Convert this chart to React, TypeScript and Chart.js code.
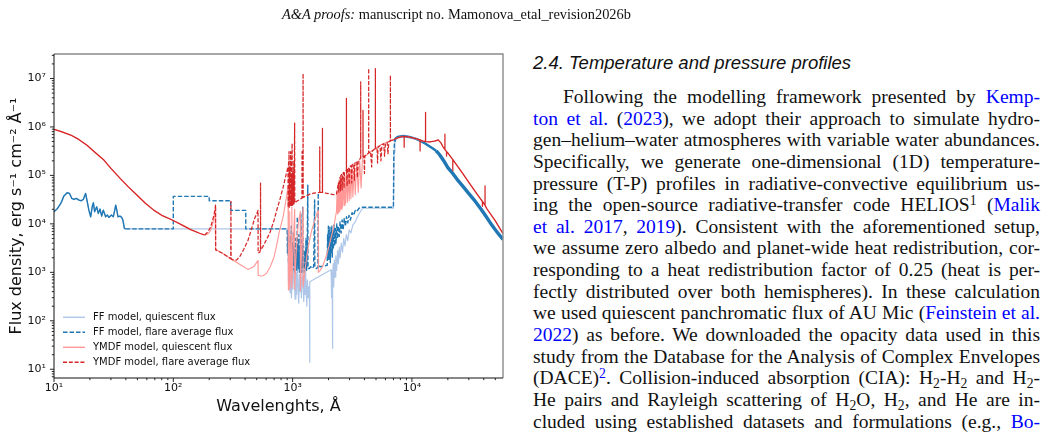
import React, { useEffect, useRef } from 'react';
import { Chart, registerables } from 'chart.js';

Chart.register(...registerables);

type Pt = [number, number];

// ---------- axes ----------
const X_MIN = 10;
const X_MAX = 58000;
const Y_MIN = 6.6;
const Y_MAX = 3.2e7;
const xDecades = [10, 100, 1000, 10000];
const yDecades = [1, 10, 100, 1e3, 1e4, 1e5, 1e6, 1e7];
const minorSteps = [1, 2, 3, 4, 5, 6, 7, 8, 9];
const xTitle = 'Wavelenghts, Å';
const yTitle = 'Flux density, erg s⁻¹ cm⁻² Å⁻¹';

// ---------- legend ----------
const seriesLabels = [
  'FF model, quiescent flux',
  'FF model, flare average flux',
  'YMDF model, quiescent flux',
  'YMDF model, flare average flux',
];
const seriesColors = ['#aec7e8', '#1f77b4', '#ff9896', '#d62728'];

// ---------- FF model (X-ray part, shared by both FF spectra) ----------
const ffXray: Pt[] = [
  [10, 17800], [10.7, 20800], [11.4, 26400], [12.1, 37400], [12.9, 43800], [13.5, 42500],
  [14.1, 33500], [14.7, 31900], [15.4, 33500], [16.2, 30900], [16.9, 30000], [17.6, 31900],
  [18.4, 42500], [19.0, 28600], [19.6, 19200], [20.3, 14000], [20.9, 22500], [21.4, 27200],
  [21.9, 17800], [22.8, 22500], [23.5, 16400], [24.3, 20200], [25.1, 14500], [25.9, 19200],
  [27.1, 14000], [28.0, 15200], [28.9, 13600], [30.2, 15200], [31.4, 14000], [32.3, 19200],
  [32.9, 24400], [33.5, 19900], [34.4, 14000], [35.7, 14500], [36.9, 13600], [37.8, 12000],
  [38.9, 8050], [39.9, 7900],
];

// FF infrared part (shared)
const ffInfrared: Pt[] = [
  [7300, 580000], [7600, 620000], [8000, 640000], [8500, 650000], [9000, 635000], [9500, 620000],
  [10000, 600000], [11000, 560000], [12000, 500000], [13000, 450000], [14000, 400000],
  [15000, 360000], [16000, 320000], [17000, 270000], [18000, 220000], [19000, 180000],
  [20000, 145000], [22000, 110000], [24000, 82000], [27000, 58000], [30000, 42000],
  [34000, 29000], [38000, 20000], [42000, 14000], [46000, 10000], [50000, 7600],
  [54000, 5900], [58000, 4800],
];

const ffQuiescentUv: Pt[] = [
  [915, 7900], [920, 2500], [928, 600], [940, 1500], [952, 380], [965, 900], [978, 300],
  [992, 1300], [1005, 450], [1020, 2200], [1035, 650], [1050, 280], [1065, 1000], [1080, 350],
  [1095, 1600], [1110, 500], [1125, 230], [1140, 900], [1155, 400], [1170, 1400], [1185, 300],
  [1200, 800], [1215, 3000], [1225, 500], [1240, 250], [1255, 900], [1270, 350], [1285, 1200],
  [1300, 400], [1315, 200], [1330, 700], [1350, 300], [1370, 500], [1385, 250], [1390, 14],
  [1395, 640], [2100, 1130], [2115, 300], [2130, 900], [2150, 400], [2160, 27], [2170, 800],
  [2190, 1500], [2210, 500], [2240, 1800], [2270, 800], [2300, 2200], [2340, 1100], [2380, 2800],
  [2420, 1500], [2460, 3300], [2500, 2000], [2560, 4000], [2620, 2600], [2680, 5000],
  [2750, 3500], [2820, 6000], [2900, 4500], [2980, 7500], [3080, 6500], [3200, 9500],
  [3350, 11000], [3500, 14000], [3650, 17000], [3800, 20000], [3900, 21000], [7000, 21000],
  [7100, 300000], [7200, 520000],
];

const ffFlareUv: Pt[] = [
  [100, 7900], [100, 37000], [200, 37000], [200, 30000], [303, 30000], [303, 19000],
  [405, 19000], [405, 7900], [900, 7900], [905, 2500], [915, 6000], [925, 1500], [935, 4500],
  [945, 1200], [955, 5500], [965, 1600], [975, 9000], [985, 1300], [995, 4000], [1005, 1100],
  [1015, 6500], [1025, 1400], [1035, 3500], [1045, 1000], [1055, 5000], [1065, 1300],
  [1075, 3000], [1085, 1100], [1095, 14000], [1100, 1500], [1110, 4000], [1120, 1200],
  [1130, 6000], [1140, 1000], [1150, 3500], [1160, 1400], [1170, 16000], [1175, 1300],
  [1185, 3000], [1195, 1000], [1205, 4500], [1215, 22000], [1222, 1200], [1235, 3500],
  [1250, 1000], [1265, 2800], [1280, 1200], [1295, 5000], [1310, 1100], [1325, 2500],
  [1340, 63000], [1345, 1200], [1380, 1200], [1420, 1300], [1460, 1200], [1500, 1300],
  [1530, 31000], [1535, 1300], [1580, 1200], [1630, 1250], [1640, 43000], [1645, 1500],
  [1700, 1300], [1950, 1400], [1965, 6000], [1980, 2000], [1995, 9000], [2010, 1800],
  [2025, 5500], [2040, 2200], [2055, 8500], [2070, 1600], [2090, 6500], [2110, 2400],
  [2130, 9000], [2150, 2000], [2170, 7000], [2195, 3000], [2220, 9500], [2250, 3500],
  [2280, 8000], [2310, 4000], [2345, 10000], [2380, 5000], [2420, 9000], [2460, 5500],
  [2500, 11000], [2550, 6500], [2600, 12000], [2650, 7500], [2710, 13000], [2770, 9000],
  [2830, 14000], [2900, 10500], [2970, 15000], [3050, 12000], [3150, 17000], [3250, 15000],
  [3350, 19000], [3450, 18000], [3600, 21000], [3750, 22000], [3900, 22000], [7000, 22000],
  [7050, 280000], [7150, 500000],
];

// ---------- YMDF model ----------
const ymdfXuv: Pt[] = [
  [10, 890000], [11.5, 800000], [13.8, 680000], [16, 560000], [18.9, 420000], [22, 300000],
  [26.2, 207000], [30, 140000], [36, 86000], [42, 58000], [49.7, 39000], [58, 27000],
  [68.5, 19200], [80, 15000], [98, 12000], [120, 9300], [140, 7600], [166, 6400], [183, 5900],
];

const ymdfQuiescentUv: Pt[] = [
  [195, 6200], [205, 7200], [213, 9500], [220, 14000], [224, 19000], [226, 23500], [226.5, 3000],
  [260, 2450], [300, 1950], [340, 1600], [380, 1350], [423, 1150], [470, 1300], [513, 1740],
  [514, 870], [540, 840], [565, 850], [603, 950], [650, 1300], [700, 2100], [731, 3400],
  [770, 6500], [800, 9500], [832, 14000], [870, 26000], [900, 45000], [915, 59000],
  [918, 430], [925, 900], [935, 4000], [945, 18000], [947, 450], [960, 1200], [972, 6000],
  [985, 22000], [987, 480], [1000, 1400], [1020, 5500], [1040, 20000], [1042, 450],
  [1060, 1400], [1085, 4500], [1110, 9000], [1140, 14000], [1160, 18000], [1162, 420],
  [1185, 2200], [1205, 8000], [1222, 22000], [1224, 500], [1250, 800], [1280, 1300],
  [1320, 2300], [1360, 3500], [1400, 5200], [1450, 7500], [1500, 10000], [1550, 13000],
  [1600, 16500], [1640, 19000], [1642, 1000], [1700, 1100], [1780, 1300], [1850, 1700],
  [1950, 2500], [2050, 4000], [2150, 6500], [2250, 11000], [2330, 18000], [2360, 45000],
  [2380, 16000], [2410, 60000], [2430, 17000], [2460, 70000], [2490, 18000], [2520, 80000],
  [2550, 20000], [2590, 88000], [2620, 22000], [2660, 95000], [2700, 24000], [2740, 100000],
  [2780, 26000], [2830, 110000], [2880, 28000], [2930, 120000], [2980, 30000], [3030, 130000],
  [3080, 33000], [3140, 140000], [3200, 36000], [3280, 160000], [3350, 40000], [3450, 180000],
  [3550, 45000], [3650, 200000], [3750, 55000], [3850, 220000], [4000, 240000], [4500, 310000],
  [5000, 370000], [5500, 430000], [6000, 470000], [6500, 510000],
];

const ymdfInfrared: Pt[] = [
  [7000, 545000], [7500, 590000], [8400, 640000], [9200, 630000], [10560, 580000],
  [12400, 510000], [14000, 490000], [15500, 510000], [16600, 540000], [17500, 470000],
  [18200, 390000], [20000, 290000], [22100, 210000], [26000, 120000], [30500, 68000],
  [36000, 38000], [42200, 21000], [50000, 11500], [58000, 6300],
];

const ymdfFlareUv: Pt[] = [
  [195, 6800], [205, 8500], [213, 11500], [220, 16000], [224, 21000], [226, 24500], [226.5, 2900],
  [260, 2450], [290, 2050], [303, 1900], [304, 29000], [305, 1880], [320, 1800], [338, 1780],
  [360, 2100], [390, 3000], [423, 4600], [450, 7500], [481, 13000], [500, 16000], [513, 19000],
  [514, 2500], [530, 2600], [538, 2900], [538.5, 69000], [539, 2900], [560, 3300], [600, 4600],
  [643, 6400], [700, 12000], [740, 20000], [780, 31000], [830, 55000], [870, 90000],
  [915, 150000], [918, 22000], [925, 200000], [928, 22000], [933, 310000], [936, 22000],
  [945, 150000], [948, 23000], [963, 310000], [966, 23000], [975, 100000], [978, 24000],
  [990, 460000], [993, 24000], [1005, 120000], [1008, 25000], [1025, 200000], [1028, 26000],
  [1040, 1200000], [1043, 27000], [1070, 28500], [1100, 30000], [1150, 32000], [1198, 34000],
  [1200, 310000], [1202, 34000], [1222, 35000], [1224, 12700000], [1226, 35000], [1300, 38000],
  [1400, 41000], [1500, 43000], [1600, 44000], [1687, 44500], [1688, 390000], [1690, 44500],
  [1778, 44500], [1779, 930000], [1781, 44500], [1900, 43000], [2000, 42000], [2100, 41000],
  [2200, 40000], [2330, 41000], [2380, 55000], [2420, 70000], [2440, 45000], [2460, 80000],
  [2500, 92000], [2520, 48000], [2540, 100000], [2580, 105000], [2600, 50000], [2620, 108000],
  [2680, 115000], [2700, 55000], [2720, 118000], [2790, 125000], [2825, 130000],
  [2826, 3900000], [2828, 130000], [2860, 60000], [2880, 135000], [2950, 145000],
  [2980, 65000], [3000, 150000], [3100, 160000], [3130, 70000], [3160, 165000], [3250, 175000],
  [3300, 80000], [3330, 180000], [3450, 195000], [3500, 90000], [3550, 205000], [3720, 225000],
  [3721, 8500000], [3723, 225000], [3800, 232000], [3890, 240000], [3891, 2200000],
  [3893, 240000], [3970, 250000], [4000, 110000], [4030, 255000], [4200, 275000],
  [4340, 290000], [4341, 16000000], [4343, 290000], [4500, 310000], [4600, 150000],
  [4650, 320000], [4800, 340000], [4940, 355000], [4941, 16000000], [4943, 355000],
  [5100, 375000], [5150, 180000], [5200, 385000], [5400, 410000], [5500, 200000],
  [5600, 430000], [5800, 450000], [5900, 250000], [6000, 465000], [6200, 480000],
  [6300, 280000], [6400, 495000], [6600, 515000], [6601, 11700000], [6603, 515000],
];

const ymdfFlareInfrared: Pt[] = [
  [7000, 545000], [7500, 590000], [8400, 640000], [8600, 635000], [8610, 380000], [8620, 635000],
  [9200, 630000], [10560, 580000], [11700, 540000], [11710, 320000], [11720, 540000],
  [12400, 510000], [13000, 500000], [13010, 2000000], [13020, 500000], [14000, 490000],
  [15500, 510000], [16600, 540000], [17500, 470000], [18200, 390000], [18900, 340000],
  [18910, 710000], [18920, 340000], [19500, 310000], [19510, 250000], [19520, 310000],
  [20000, 290000], [22000, 212000], [22010, 125000], [22020, 212000], [26000, 120000],
  [30500, 68000], [36000, 38000], [39000, 29000], [39010, 23000], [39020, 29000],
  [41000, 24500], [41010, 61000], [41020, 24500], [42200, 21000], [50000, 11500], [58000, 6300],
];

// ---------- helpers ----------
const SUP: Record<string, string> = { '0': '⁰', '1': '¹', '2': '²', '3': '³', '4': '⁴', '5': '⁵', '6': '⁶', '7': '⁷', '8': '⁸', '9': '⁹' };
const isPow10 = (v: number) => Math.abs(Math.log10(v) - Math.round(Math.log10(v))) < 1e-9;
const powLabel = (v: number) => '10' + String(Math.round(Math.log10(v))).split('').map((c) => SUP[c]).join('');
const toXY = (pts: Pt[]) => pts.map(([x, y]) => ({ x, y }));
const buildTicks = (decades: number[], lo: number, hi: number) =>
  decades.flatMap((d) => minorSteps.map((m) => m * d)).filter((v) => v >= lo * 0.9999 && v <= hi);

const FONT = "'DejaVu Sans', sans-serif";

const framePlugin = {
  id: 'frameAndTicks',
  afterDraw(chart: any) {
    const { ctx, chartArea } = chart;
    const { left, right, top, bottom } = chartArea;
    const xs = chart.scales.x;
    const ys = chart.scales.y;
    ctx.save();
    ctx.strokeStyle = '#111';
    ctx.lineWidth = 0.9;
    xs.ticks.forEach((t: any) => {
      const px = xs.getPixelForValue(t.value);
      const len = isPow10(t.value) ? 4 : 2.2;
      ctx.beginPath();
      ctx.moveTo(px, bottom);
      ctx.lineTo(px, bottom + len);
      ctx.stroke();
    });
    ys.ticks.forEach((t: any) => {
      const py = ys.getPixelForValue(t.value);
      const len = isPow10(t.value) ? 4 : 2.2;
      ctx.beginPath();
      ctx.moveTo(left - len, py);
      ctx.lineTo(left, py);
      ctx.stroke();
    });
    // spines
    ctx.strokeStyle = '#8a8a8a';
    ctx.lineWidth = 1.4;
    ctx.beginPath();
    ctx.moveTo(left, top);
    ctx.lineTo(right, top);
    ctx.lineTo(right, bottom);
    ctx.stroke();
    ctx.strokeStyle = '#111';
    ctx.lineWidth = 1;
    ctx.beginPath();
    ctx.moveTo(left, top);
    ctx.lineTo(left, bottom);
    ctx.lineTo(right, bottom);
    ctx.stroke();

    // legend (inset, lower left)
    const ds = chart.data.datasets;
    ds.forEach((d: any, i: number) => {
      const y = bottom - 60.7 + i * 15;
      ctx.strokeStyle = d.borderColor;
      ctx.lineWidth = 1.4;
      ctx.setLineDash(d.borderDash || []);
      ctx.beginPath();
      ctx.moveTo(left + 9, y);
      ctx.lineTo(left + 31, y);
      ctx.stroke();
      ctx.setLineDash([]);
      ctx.fillStyle = '#111';
      ctx.font = `10px ${FONT}`;
      ctx.textBaseline = 'middle';
      ctx.textAlign = 'left';
      ctx.fillText(d.label, left + 39, y);
    });
    ctx.restore();
  },
};

function FluxChart() {
  const ref = useRef<HTMLCanvasElement | null>(null);
  useEffect(() => {
    if (!ref.current) return;
    const xTickValues = buildTicks(xDecades, X_MIN, X_MAX);
    const yTickValues = buildTicks(yDecades, Y_MIN, Y_MAX);
    const ffQuiescent = [...ffXray, ...ffQuiescentUv, ...ffInfrared];
    const ffFlare = [...ffXray, ...ffFlareUv, ...ffInfrared];
    const ymdfQuiescent = [...ymdfXuv, ...ymdfQuiescentUv, ...ymdfInfrared];
    const ymdfFlare = [...ymdfXuv, ...ymdfFlareUv, ...ymdfFlareInfrared];

    const chart = new Chart(ref.current, {
      type: 'line',
      data: {
        datasets: [
          {
            label: seriesLabels[0],
            data: toXY(ffQuiescent),
            borderColor: seriesColors[0],
            borderWidth: 1.2,
            order: 4,
          },
          {
            label: seriesLabels[1],
            data: toXY(ffFlare),
            borderColor: seriesColors[1],
            borderWidth: 1.4,
            borderDash: [4.5, 2],
            order: 3,
            segment: {
              borderDash: (c: any) => (c.p1.parsed.x <= 40 || c.p0.parsed.x >= 7150 ? [] : undefined),
              borderWidth: (c: any) =>
                c.p0.parsed.x >= 16000 ? 3.4 : c.p0.parsed.x >= 7150 ? 2.4 : undefined,
            },
          },
          {
            label: seriesLabels[2],
            data: toXY(ymdfQuiescent),
            borderColor: seriesColors[2],
            borderWidth: 1.1,
            order: 2,
          },
          {
            label: seriesLabels[3],
            data: toXY(ymdfFlare),
            borderColor: seriesColors[3],
            borderWidth: 1.25,
            borderDash: [4, 1.8],
            order: 1,
            segment: {
              borderDash: (c: any) => (c.p1.parsed.x <= 183 || c.p0.parsed.x >= 7000 ? [] : undefined),
            },
          },
        ] as any,
      },
      options: {
        animation: false,
        responsive: false,
        devicePixelRatio: 1,
        layout: { padding: { left: 0, right: 17, top: 54, bottom: 10 } },
        elements: {
          point: { radius: 0, hoverRadius: 0 },
          line: { tension: 0, fill: false, borderJoinStyle: 'round', borderCapStyle: 'butt' },
        },
        plugins: { legend: { display: false }, tooltip: { enabled: false } },
        events: [],
        scales: {
          x: {
            type: 'logarithmic',
            position: 'bottom',
            min: X_MIN,
            max: X_MAX,
            afterFit: (s: any) => { s.height = 50; },
            afterBuildTicks: (s: any) => { s.ticks = xTickValues.map((v) => ({ value: v })); },
            grid: { display: false, drawTicks: true, tickLength: 4 },
            border: { display: false },
            ticks: {
              autoSkip: false,
              maxRotation: 0,
              minRotation: 0,
              padding: 0,
              color: '#111',
              font: { family: FONT, size: 11 },
              callback: (v: any) => (isPow10(Number(v)) ? powLabel(Number(v)) : ''),
            },
            title: {
              display: true,
              text: xTitle,
              color: '#111',
              font: { family: FONT, size: 16 },
              padding: { top: 0, bottom: 12 },
            },
          },
          y: {
            type: 'logarithmic',
            position: 'left',
            min: Y_MIN,
            max: Y_MAX,
            afterFit: (s: any) => { s.width = 54; },
            afterBuildTicks: (s: any) => { s.ticks = yTickValues.map((v) => ({ value: v })); },
            grid: { display: false, drawTicks: true, tickLength: 4 },
            border: { display: false },
            ticks: {
              autoSkip: false,
              padding: 4,
              color: '#111',
              font: { family: FONT, size: 11 },
              callback: (v: any) => (isPow10(Number(v)) ? powLabel(Number(v)) : ''),
            },
            title: {
              display: true,
              text: yTitle,
              color: '#111',
              font: { family: FONT, size: 16 },
              padding: { top: 7, bottom: 0 },
            },
          },
        },
      } as any,
      plugins: [framePlugin],
    });
    return () => chart.destroy();
  }, []);
  return <canvas ref={ref} width={520} height={438} style={{ position: 'absolute', left: 0, top: 0, display: 'block' }} />;
}

const LINK = '#0000ff';
const A = ({ children }: { children: React.ReactNode }) => <span style={{ color: LINK }}>{children}</span>;
const Sub = ({ children }: { children: React.ReactNode }) => (
  <sub style={{ fontSize: '0.7em', verticalAlign: '-0.28em', lineHeight: 0 }}>{children}</sub>
);
const Sup = ({ children }: { children: React.ReactNode }) => (
  <sup style={{ fontSize: '0.7em', verticalAlign: '0.45em', lineHeight: 0 }}>{children}</sup>
);

const bodyLines: React.ReactNode[] = [
  <>Following the modelling framework presented by <A>Kemp-</A></>,
  <><A>ton et al.</A> (<A>2023</A>), we adopt their approach to simulate hydro-</>,
  <>gen–helium–water atmospheres with variable water abundances.</>,
  <>Specifically, we generate one-dimensional (1D) temperature-</>,
  <>pressure (T-P) profiles in radiative-convective equilibrium us-</>,
  <>ing the open-source radiative-transfer code HELIOS<Sup>1</Sup> (<A>Malik</A></>,
  <><A>et al. 2017</A>, <A>2019</A>). Consistent with the aforementioned setup,</>,
  <>we assume zero albedo and planet-wide heat redistribution, cor-</>,
  <>responding to a heat redistribution factor of 0.25 (heat is per-</>,
  <>fectly distributed over both hemispheres). In these calculation</>,
  <>we used quiescent panchromatic flux of AU Mic (<A>Feinstein et al.</A></>,
  <><A>2022</A>) as before. We downloaded the opacity data used in this</>,
  <>study from the Database for the Analysis of Complex Envelopes</>,
  <>(DACE)<Sup><A>2</A></Sup>. Collision-induced absorption (CIA): H<Sub>2</Sub>-H<Sub>2</Sub> and H<Sub>2</Sub>-</>,
  <>He pairs and Rayleigh scattering of H<Sub>2</Sub>O, H<Sub>2</Sub>, and He are in-</>,
  <>cluded using established datasets and formulations (e.g., <A>Bo-</A></>,
];

export default function App() {
  return (
    <div style={{ position: 'fixed', left: 0, top: 0, width: 1050, height: 438, background: '#fff', overflow: 'hidden', color: '#111' }}>
      <FluxChart />
      <div style={{ position: 'absolute', left: 282, top: 5.6, fontFamily: "'Liberation Serif', serif", fontSize: 14.4, lineHeight: '17px', whiteSpace: 'nowrap' }}>
        <i>A&amp;A proofs:</i> manuscript no. Mamonova_etal_revision2026b
      </div>
      <div style={{ position: 'absolute', left: 533, top: 51.9, fontFamily: "'Liberation Sans', sans-serif", fontStyle: 'italic', fontSize: 18.5, lineHeight: '22px', whiteSpace: 'nowrap' }}>
        2.4. Temperature and pressure profiles
      </div>
      <div style={{ position: 'absolute', left: 533, top: 85.9, width: 507, fontFamily: "'Liberation Serif', serif", fontSize: 19.5 }}>
        {bodyLines.map((l, i) => (
          <div
            key={i}
            style={{
              height: 21.67,
              lineHeight: '21.67px',
              textAlign: 'justify',
              textAlignLast: 'justify',
              textIndent: i === 0 ? 30 : 0,
            }}
          >
            {l}
          </div>
        ))}
      </div>
    </div>
  );
}
